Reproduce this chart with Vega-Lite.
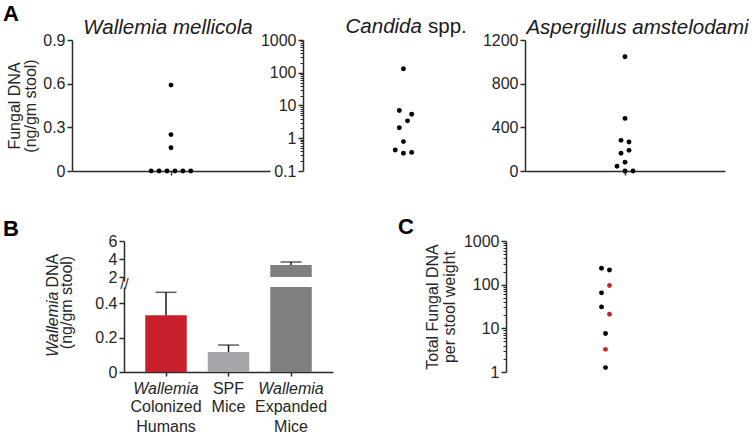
{
  "$schema": "https://vega.github.io/schema/vega-lite/v6.json",
  "background": "white",
  "padding": {"left": 3, "top": 3, "right": 0, "bottom": 0},
  "bounds": "flush",
  "spacing": 201,
  "resolve": {"scale": {"color": "independent"}},
  "datasets": {
    "wallemia": [
      {"slot": 0, "dna": 0.59}, {"slot": 0, "dna": 0.25}, {"slot": 0, "dna": 0.16},
      {"slot": -5, "dna": 0}, {"slot": -3, "dna": 0}, {"slot": -1, "dna": 0},
      {"slot": 1, "dna": 0}, {"slot": 3, "dna": 0}, {"slot": 5, "dna": 0}
    ],
    "candida": [
      {"slot": 0, "dna": 132}, {"slot": -1, "dna": 7.0}, {"slot": 2, "dna": 5.4},
      {"slot": 1, "dna": 3.4}, {"slot": -1, "dna": 2.1}, {"slot": 0, "dna": 0.79},
      {"slot": -2, "dna": 0.44}, {"slot": 0, "dna": 0.35}, {"slot": 2, "dna": 0.37}
    ],
    "aspergillus": [
      {"slot": 0, "dna": 1046}, {"slot": 0, "dna": 482}, {"slot": -1, "dna": 281},
      {"slot": 1, "dna": 265}, {"slot": -1, "dna": 162}, {"slot": 1, "dna": 189},
      {"slot": -2, "dna": 43}, {"slot": 0, "dna": 80}, {"slot": 0, "dna": 0}, {"slot": 2, "dna": 0}
    ],
    "total": [
      {"slot": -1, "dna": 237, "wallemia": "other"}, {"slot": 1, "dna": 216, "wallemia": "other"},
      {"slot": 1, "dna": 96, "wallemia": "colonized"}, {"slot": -1, "dna": 65, "wallemia": "other"},
      {"slot": -1, "dna": 31, "wallemia": "other"}, {"slot": 1, "dna": 21, "wallemia": "colonized"},
      {"slot": 0, "dna": 7.6, "wallemia": "other"}, {"slot": 0, "dna": 3.3, "wallemia": "colonized"},
      {"slot": 0, "dna": 1.26, "wallemia": "other"}
    ],
    "bars": [
      {"group": "Humans", "mean": 0.33, "upper": 0.464},
      {"group": "SPF", "mean": 0.116, "upper": 0.157},
      {"group": "Expanded", "mean": 3.33, "upper": 3.67}
    ],
    "minor": [
      {"v": 0.2}, {"v": 0.3}, {"v": 0.4}, {"v": 0.5}, {"v": 0.6}, {"v": 0.7}, {"v": 0.8}, {"v": 0.9},
      {"v": 2}, {"v": 3}, {"v": 4}, {"v": 5}, {"v": 6}, {"v": 7}, {"v": 8}, {"v": 9},
      {"v": 20}, {"v": 30}, {"v": 40}, {"v": 50}, {"v": 60}, {"v": 70}, {"v": 80}, {"v": 90},
      {"v": 200}, {"v": 300}, {"v": 400}, {"v": 500}, {"v": 600}, {"v": 700}, {"v": 800}, {"v": 900}
    ]
  },
  "vconcat": [
    {
      "title": {"text": "A", "anchor": "start", "frame": "group", "dx": -69, "fontSize": 22, "fontWeight": "bold", "color": "black", "offset": -9},
      "bounds": "flush",
      "spacing": 33,
      "hconcat": [
        {
          "width": 198, "height": 131,
          "data": {"name": "wallemia"},
          "title": {"text": "Wallemia mellicola", "fontStyle": "italic", "dx": -3, "offset": -6},
          "mark": {"type": "circle", "size": 24, "color": "black", "opacity": 1, "clip": false},
          "encoding": {
            "x": {"field": "slot", "type": "quantitative", "scale": {"domain": [-25, 25], "nice": false}, "axis": {"values": [0], "labels": false, "title": null, "tickSize": 4}},
            "y": {"field": "dna", "type": "quantitative", "scale": {"domain": [0, 0.9], "nice": false}, "axis": {"values": [0, 0.3, 0.6, 0.9], "format": "~g", "title": ["Fungal DNA", "(ng/gm stool)"], "titlePadding": 4, "titleLineHeight": 16}}
          }
        },
        {
          "bounds": "flush",
          "spacing": 17,
          "hconcat": [
            {
              "width": 205, "height": 131,
              "layer": [
                {
                  "data": {"name": "minor"},
                  "mark": {"type": "point", "opacity": 0},
                  "encoding": {
                    "x": {"datum": 0, "type": "quantitative", "scale": {"domain": [-24.5, 25.5], "nice": false}, "axis": null},
                    "y": {"field": "v", "type": "quantitative", "scale": {"type": "log", "domain": [0.1, 1000], "nice": false}, "axis": {"orient": "left", "values": [0.2, 0.3, 0.4, 0.5, 0.6, 0.7, 0.8, 0.9, 2, 3, 4, 5, 6, 7, 8, 9, 20, 30, 40, 50, 60, 70, 80, 90, 200, 300, 400, 500, 600, 700, 800, 900], "labels": false, "domain": false, "tickSize": 3, "tickWidth": 1, "title": null}}
                  }
                },
                {
                  "data": {"name": "candida"},
                  "mark": {"type": "circle", "size": 24, "color": "black", "opacity": 1},
                  "encoding": {
                    "x": {"field": "slot", "type": "quantitative", "scale": {"domain": [-24.5, 25.5], "nice": false}, "axis": {"values": [0], "labels": false, "title": null, "tickSize": 4}},
                    "y": {"field": "dna", "type": "quantitative", "scale": {"type": "log", "domain": [0.1, 1000], "nice": false}, "axis": {"orient": "left", "values": [0.1, 1, 10, 100, 1000], "format": "~g", "title": null}}
                  }
                },
                {
                  "data": {"values": [{"label": "Candida"}]},
                  "mark": {"type": "text", "fontSize": 20.5, "fontStyle": "italic", "align": "right", "baseline": "alphabetic", "color": "#1a1a1a"},
                  "encoding": {
                    "text": {"field": "label"},
                    "x": {"datum": 4.5, "type": "quantitative"},
                    "y": {"datum": 1634, "type": "quantitative", "axis": null}
                  }
                },
                {
                  "data": {"values": [{"label": "spp."}]},
                  "mark": {"type": "text", "fontSize": 20.5, "align": "left", "baseline": "alphabetic", "color": "#1a1a1a"},
                  "encoding": {
                    "text": {"field": "label"},
                    "x": {"datum": 6, "type": "quantitative"},
                    "y": {"datum": 1634, "type": "quantitative", "axis": null}
                  }
                }
              ],
              "resolve": {"axis": {"y": "independent"}}
            },
            {
              "width": 200, "height": 131,
              "data": {"name": "aspergillus"},
              "title": {"text": "Aspergillus amstelodami", "fontStyle": "italic", "dx": 12.5, "offset": -6},
              "mark": {"type": "circle", "size": 24, "color": "black", "opacity": 1},
              "encoding": {
                "x": {"field": "slot", "type": "quantitative", "scale": {"domain": [-25, 25], "nice": false}, "axis": {"values": [0], "labels": false, "title": null, "tickSize": 4}},
                "y": {"field": "dna", "type": "quantitative", "scale": {"domain": [0, 1200], "nice": false}, "axis": {"values": [0, 400, 800, 1200], "format": "d", "title": null}}
              }
            }
          ]
        }
      ]
    },
    {
      "bounds": "flush",
      "spacing": 50,
      "resolve": {"scale": {"color": "independent"}},
      "hconcat": [
        {"width": 2, "height": 2, "data": {"values": []}, "mark": "point"},
        {
          "bounds": "flush",
          "spacing": 382,
          "resolve": {"scale": {"color": "independent"}},
          "hconcat": [
            {
              "title": {"text": "B", "anchor": "start", "frame": "group", "dx": -121, "fontSize": 22, "fontWeight": "bold", "color": "black", "offset": -8},
              "bounds": "flush",
              "spacing": 6,
              "vconcat": [
                {
                  "width": 209, "height": 40,
                  "data": {"name": "bars"},
                  "transform": [{"filter": "datum.mean > 2"}],
                  "layer": [
                    {
                      "mark": {"type": "bar"},
                      "encoding": {
                        "x": {"field": "group", "type": "nominal", "sort": null, "scale": {"domain": ["Humans", "SPF", "Expanded"], "paddingInner": 0.336, "paddingOuter": 0.34}, "axis": null},
                        "y": {"field": "mean", "type": "quantitative", "scale": {"domain": [1.56, 6], "nice": false, "zero": false}, "axis": {"values": [2, 4, 6], "format": "~g", "title": null, "labelOverlap": false, "labelBound": false, "labelFlush": false}},
                        "y2": {"datum": 2},
                        "color": {"field": "group", "type": "nominal", "scale": {"domain": ["Humans", "SPF", "Expanded"], "range": ["#c8202b", "#a6a6aa", "#7f7f7f"]}, "legend": null}
                      }
                    },
                    {
                      "mark": {"type": "rule", "color": "#1a1a1a", "strokeWidth": 1.5},
                      "encoding": {
                        "x": {"field": "group", "type": "nominal", "sort": null},
                        "y": {"field": "mean", "type": "quantitative", "scale": {"domain": [1.56, 6], "nice": false, "zero": false}, "axis": {"orient": "left", "values": [1.6], "labelExpr": "'//'", "ticks": false, "tickSize": 0, "domain": false, "title": null, "labelAlign": "center", "labelBaseline": "middle", "labelPadding": 0, "labelOffset": 3, "labelOverlap": false, "labelBound": false, "labelFlush": false, "labelFontSize": 15, "labelColor": "#2b2b2b"}},
                        "y2": {"field": "upper"}
                      }
                    },
                    {
                      "mark": {"type": "tick", "color": "#1a1a1a", "size": 21, "thickness": 1.5},
                      "encoding": {
                        "x": {"field": "group", "type": "nominal", "sort": null},
                        "y": {"field": "upper", "type": "quantitative", "axis": null}
                      }
                    }
                  ],
                  "resolve": {"axis": {"y": "independent"}}
                },
                {
                  "width": 209, "height": 85,
                  "data": {"name": "bars"},
                  "layer": [
                    {
                      "mark": {"type": "bar", "clip": true},
                      "encoding": {
                        "x": {"field": "group", "type": "nominal", "sort": null, "scale": {"domain": ["Humans", "SPF", "Expanded"], "paddingInner": 0.336, "paddingOuter": 0.34}, "axis": {"orient": "bottom", "title": null, "labelAngle": 0, "tickSize": 4, "labelPadding": 4, "labelBaseline": "top", "labelOverlap": false, "labelExpr": "datum.value == 'SPF' ? 'SPF' : 'Wallemia'", "labelFontStyle": {"condition": {"test": "datum.value == 'SPF'", "value": "normal"}, "value": "italic"}}},
                        "y": {"field": "mean", "type": "quantitative", "scale": {"domain": [0, 0.495], "nice": false}, "axis": {"values": [0, 0.2, 0.4], "format": "~g", "labelOverlap": false, "title": "(ng/gm stool)", "titleX": -58, "titleY": 15, "titleAngle": -90, "titleAlign": "center", "titleBaseline": "middle"}},
                        "color": {"field": "group", "type": "nominal", "scale": {"domain": ["Humans", "SPF", "Expanded"], "range": ["#c8202b", "#a6a6aa", "#7f7f7f"]}, "legend": null}
                      }
                    },
                    {
                      "transform": [{"filter": "datum.mean < 2"}],
                      "mark": {"type": "rule", "color": "#1a1a1a", "strokeWidth": 1.5},
                      "encoding": {
                        "x": {"field": "group", "type": "nominal", "sort": null, "scale": {"domain": ["Humans", "SPF", "Expanded"], "paddingInner": 0.336, "paddingOuter": 0.34}, "axis": {"orient": "bottom", "title": null, "labelAngle": 0, "domain": false, "ticks": false, "tickSize": 4, "labelPadding": 26, "labelBaseline": "top", "labelLineHeight": 20, "labelOverlap": false, "labelExpr": "datum.value == 'Humans' ? ['Colonized', 'Humans'] : datum.value == 'SPF' ? ['Mice'] : ['Expanded', 'Mice']"}},
                        "y": {"field": "mean", "type": "quantitative", "scale": {"domain": [0, 0.495], "nice": false}, "axis": {"orient": "left", "labels": false, "ticks": false, "domain": false, "title": "Wallemia", "titleFontStyle": "italic", "titleX": -72, "titleY": 4, "titleAngle": -90, "titleAlign": "right", "titleBaseline": "middle"}},
                        "y2": {"field": "upper"}
                      }
                    },
                    {
                      "transform": [{"filter": "datum.mean < 2"}],
                      "mark": {"type": "tick", "color": "#1a1a1a", "size": 21, "thickness": 1.5},
                      "encoding": {
                        "x": {"field": "group", "type": "nominal", "sort": null, "axis": null},
                        "y": {"field": "upper", "type": "quantitative", "scale": {"domain": [0, 0.495], "nice": false}, "axis": {"orient": "left", "labels": false, "ticks": false, "domain": false, "title": "DNA", "titleX": -72, "titleY": 0, "titleAngle": -90, "titleAlign": "left", "titleBaseline": "middle"}}
                      }
                    }
                  ],
                  "resolve": {"axis": {"x": "independent", "y": "independent"}}
                }
              ]
            },
            {
              "width": 199, "height": 131,
              "title": {"text": "C", "anchor": "start", "frame": "group", "dx": -108, "fontSize": 22, "fontWeight": "bold", "color": "black", "offset": -6},
              "layer": [
                {
                  "data": {"name": "minor"},
                  "transform": [{"filter": "datum.v >= 1"}],
                  "mark": {"type": "point", "opacity": 0},
                  "encoding": {
                    "x": {"datum": 0, "type": "quantitative", "scale": {"domain": [-25, 25], "nice": false}, "axis": null},
                    "y": {"field": "v", "type": "quantitative", "scale": {"type": "log", "domain": [1, 1000], "nice": false}, "axis": {"orient": "left", "values": [2, 3, 4, 5, 6, 7, 8, 9, 20, 30, 40, 50, 60, 70, 80, 90, 200, 300, 400, 500, 600, 700, 800, 900], "labels": false, "domain": false, "tickSize": 3, "tickWidth": 1, "title": null}}
                  }
                },
                {
                  "data": {"name": "total"},
                  "mark": {"type": "circle", "size": 24, "opacity": 1},
                  "encoding": {
                    "x": {"field": "slot", "type": "quantitative", "scale": {"domain": [-25, 25], "nice": false}, "axis": {"values": [0], "labels": false, "title": null, "tickSize": 4}},
                    "y": {"field": "dna", "type": "quantitative", "scale": {"type": "log", "domain": [1, 1000], "nice": false}, "axis": {"orient": "left", "values": [1, 10, 100, 1000], "format": "~g", "title": ["Total Fungal DNA", "per stool weight"], "titlePadding": 6, "titleLineHeight": 17}},
                    "color": {"field": "wallemia", "type": "nominal", "scale": {"domain": ["other", "colonized"], "range": ["#000000", "#c1272d"]}, "legend": null}
                  }
                }
              ],
              "resolve": {"axis": {"y": "independent"}}
            }
          ]
        }
      ]
    }
  ],
  "config": {
    "font": "Liberation Sans",
    "view": {"stroke": null},
    "axis": {"grid": false, "domainColor": "#2b2b2b", "domainWidth": 1.5, "tickColor": "#2b2b2b", "tickWidth": 1.5, "tickSize": 5, "labelFontSize": 16, "labelColor": "#262626", "labelPadding": 2, "titleFontSize": 16, "titleFontWeight": "normal", "titleColor": "#262626", "labelFont": "Liberation Sans", "titleFont": "Liberation Sans"},
    "title": {"font": "Liberation Sans", "fontWeight": "normal", "fontSize": 20.5, "color": "#1a1a1a"}
  }
}
